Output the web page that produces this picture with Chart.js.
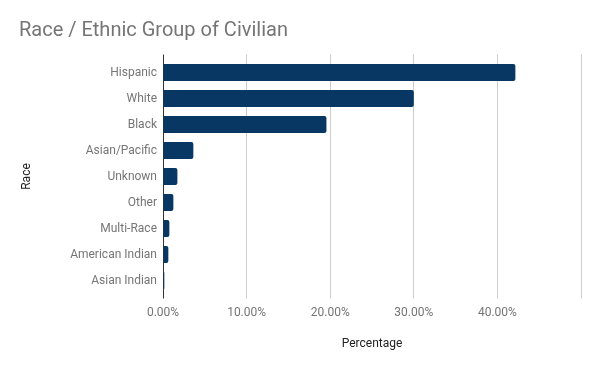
<!DOCTYPE html>
<html>
<head>
<meta charset="utf-8">
<script src="https://cdn.jsdelivr.net/npm/chart.js@4"></script>
<style>
html,body{margin:0;padding:0;background:#fff;}
#wrap{width:600px;height:371px;}
</style>
</head>
<body>
<div id="wrap"><canvas id="c" width="600" height="371"></canvas></div>
<script>
const categories = ['Hispanic','White','Black','Asian/Pacific','Unknown','Other','Multi-Race','American Indian','Asian Indian'];
const percentages = [42.15, 30.0, 19.55, 3.63, 1.72, 1.24, 0.76, 0.64, 0.16];
const xTickLabels = ['0.00%','10.00%','20.00%','30.00%','40.00%',''];

const gridColor = c => (c.tick && c.tick.value === 0) ? '#333333' : '#cccccc';

new Chart(document.getElementById('c'), {
  type: 'bar',
  data: {
    labels: categories,
    datasets: [{
      data: percentages,
      backgroundColor: '#083763',
      borderRadius: 2,
      borderSkipped: 'start',
      barPercentage: 0.654,
      categoryPercentage: 1.0
    }]
  },
  options: {
    indexAxis: 'y',
    responsive: false,
    animation: false,
    devicePixelRatio: 1,
    layout: { padding: { left: 19, right: 19, top: 0, bottom: 0 } },
    plugins: {
      legend: { display: false },
      tooltip: { enabled: false },
      title: {
        display: true,
        text: 'Race / Ethnic Group of Civilian',
        align: 'start',
        color: '#757575',
        font: { family: 'Roboto', size: 20, weight: 'normal' },
        padding: { top: 19, bottom: 0 }
      }
    },
    scales: {
      x: {
        type: 'linear',
        position: 'bottom',
        min: 0, max: 50,
        grid: { color: gridColor, tickLength: 5, drawTicks: true },
        border: { display: false },
        ticks: {
          stepSize: 10,
          padding: 7,
          color: '#757575',
          font: { family: 'Roboto', size: 12 },
          callback: (v, i) => xTickLabels[i]
        },
        title: {
          display: true,
          text: 'Percentage',
          color: '#222222',
          font: { family: 'Roboto', size: 12 },
          padding: { top: 0, bottom: 20 }
        },
        afterFit: s => { s.height = 77.5; }
      },
      x2: {
        type: 'linear',
        position: 'top',
        min: 0, max: 50,
        grid: { color: gridColor, tickLength: 5, drawTicks: true, drawOnChartArea: false },
        border: { display: false },
        ticks: { stepSize: 10, display: false },
        afterFit: s => { s.height = 16.5; }
      },
      y: {
        type: 'category',
        grid: { display: false, drawTicks: false },
        border: { display: false },
        ticks: {
          padding: 6,
          color: '#757575',
          font: { family: 'Roboto', size: 12 }
        },
        title: {
          display: true,
          text: 'Race',
          color: '#222222',
          font: { family: 'Roboto', size: 12 },
          padding: { top: 1, bottom: 0 }
        },
        afterFit: s => { s.width = 144; }
      }
    }
  }
});
</script>
</body>
</html>
